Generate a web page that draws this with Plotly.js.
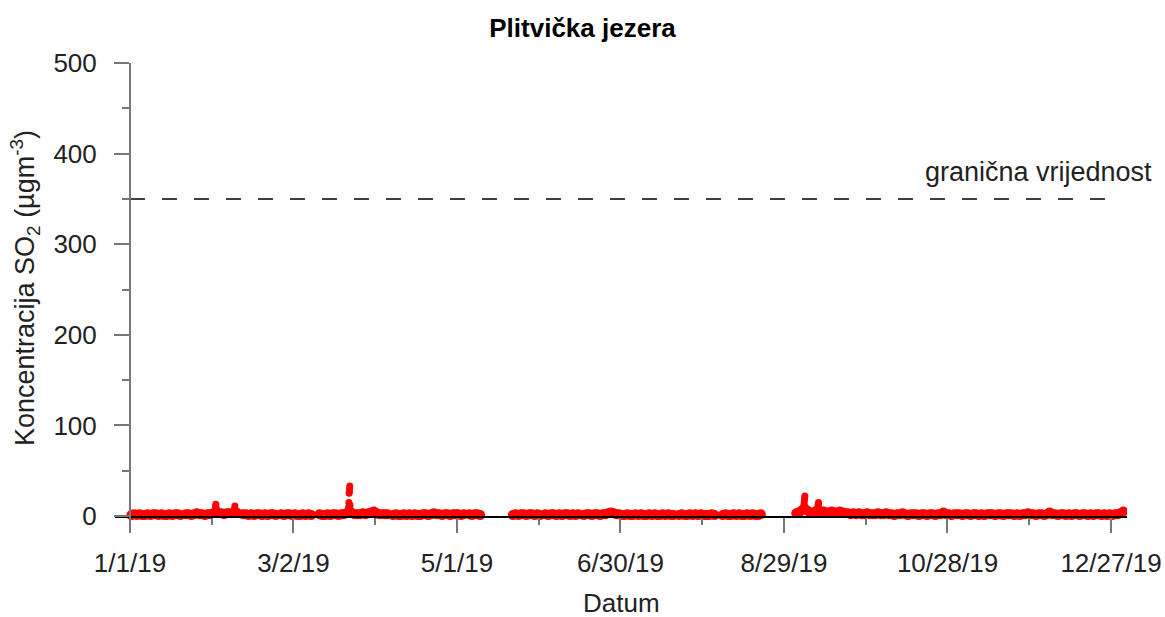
<!DOCTYPE html>
<html>
<head>
<meta charset="utf-8">
<script src="https://cdn.plot.ly/plotly-3.0.1.min.js"></script>
<style>html,body{margin:0;padding:0;background:#fff;}</style>
</head>
<body>
<div id="chart" style="width:1165px;height:617px;"></div>
<script>
// Daily SO2 concentrations (µg/m3), 2019, one value per day (null = no data)
const jan = [1,2,1,2,1,1,2,1,2,2,1,2,1,1,2,1,2,2,1,null,2,2,1,2,3,2,2,1,2,2,3];
const feb = [4,3,3,2,3,3,3,4,3,null,2,2,1,2,1,2,2,1,2,1,2,2,1,null,2,1,2,2];
const mar = [1,2,1,1,2,1,2,1,null,null,2,1,1,2,1,2,2,1,2,2,3,6,3,2,2,2,3,2,3,4,5];
const apr = [3,2,2,2,2,null,1,2,1,1,2,1,2,1,2,1,1,2,2,1,2,3,2,2,1,2,2,1,2,2];
const may = [2,1,2,null,2,1,2,2,1,null,null,null,null,null,null,null,null,null,null,null,1,2,1,2,2,1,2,2,1,2,1];
const jun = [null,2,1,2,2,1,2,1,2,2,1,2,1,2,null,1,2,2,1,2,2,1,2,2,3,4,3,2,2,1];
const jul = [1,2,1,1,2,1,2,1,1,2,1,2,1,1,2,1,2,1,1,null,1,2,1,1,2,1,2,1,2,1,1];
const aug = [1,2,1,null,null,1,2,1,1,2,1,2,1,1,2,1,2,1,1,2,null,null,null,null,null,null,null,null,null,null,null];
const sep = [null,3,4,6,8,6,4,4,5,6,5,5,4,4,5,4,4,5,4,3,3,2,3,2,3,2,2,3,2,2];
const oct = [2,3,2,2,3,2,2,1,2,2,3,2,1,2,2,2,1,2,2,1,2,2,1,2,2,4,2,2,1,2,2];
const nov = [2,1,2,2,1,2,2,1,2,1,2,2,2,1,2,2,1,2,2,2,1,2,1,2,2,3,2,2,1,2];
const dec = [2,1,2,4,2,2,1,2,2,1,2,1,2,2,1,2,2,1,2,1,2,2,1,2,1,2,1,2,2,3,5];
const months = [jan,feb,mar,apr,may,jun,jul,aug,sep,oct,nov,dec];

// Short episodes with elevated hourly values
const spikeTimes = [
  '2019-02-01 06:00','2019-02-01 09:00','2019-02-01 12:00','2019-02-01 15:00',
  '2019-02-08 09:00','2019-02-08 12:00','2019-02-08 15:00',
  '2019-03-22 06:00','2019-03-22 08:00','2019-03-22 10:00','2019-03-22 12:00','2019-03-22 14:00','2019-03-22 16:00','2019-03-22 18:00',
  '2019-09-05 04:00','2019-09-05 06:00','2019-09-05 08:00','2019-09-05 10:00','2019-09-05 12:00','2019-09-05 14:00','2019-09-05 16:00','2019-09-05 18:00',
  '2019-09-10 08:00','2019-09-10 10:00','2019-09-10 12:00','2019-09-10 14:00','2019-09-10 16:00'
];
const spikeValues = [
  7,10,13,9,
  8,11,7,
  10,15,25,27,30,33,12,
  8,10,12,15,18,20,22,10,
  7,9,11,13,15
];

const limitValue = 350;
const limitDates = ['2019-01-01','2019-12-30'];
const limitLabel = 'granična vrijednost';

const xTick0 = '2019-01-01';
const yTickVals = [0,100,200,300,400,500];
const yMinorVals = [50,150,250,350,450];

// build daily series
const dailyX = [], dailyY = [];
months.forEach((arr, mi) => {
  arr.forEach((v, di) => {
    const mm = String(mi + 1).padStart(2, '0');
    const dd = String(di + 1).padStart(2, '0');
    dailyX.push(`2019-${mm}-${dd} 12:00`);
    dailyY.push(v);
  });
});

const red = 'rgb(255,0,0)';
const traces = [
  {x: dailyX, y: dailyY, type: 'scatter', mode: 'markers',
   marker: {color: red, size: 10, line: {width: 0}}, hoverinfo: 'skip'},
  {x: spikeTimes, y: spikeValues, type: 'scatter', mode: 'markers',
   marker: {color: red, size: 7, line: {width: 0}}, hoverinfo: 'skip'},
  {x: limitDates, y: [limitValue, limitValue], type: 'scatter', mode: 'lines',
   line: {color: 'black', width: 1.5, dash: '15px,17px'}, hoverinfo: 'skip'}
];

const FONT = '"Liberation Sans", Arial, sans-serif';
const TXT = '#222';
const DAY = 86400000;
const plotH = 617 - 63 - 85; // 469
const plotW = 1165 - 115 - 38; // 1012

const layout = {
  width: 1165, height: 617,
  margin: {l: 115, r: 38, t: 63, b: 85},
  paper_bgcolor: 'white', plot_bgcolor: 'white',
  showlegend: false,
  font: {family: FONT, size: 26, color: TXT},
  title: {text: '<b>Plitvička jezera</b>', x: 0.5, xref: 'container', xanchor: 'center',
          y: 1 - 28/617, yref: 'container', yanchor: 'middle',
          font: {family: FONT, size: 26, color: '#000'}},
  xaxis: {
    type: 'date', range: ['2018-12-26 12:00', '2020-01-01 21:00'],
    anchor: 'free', position: 16/plotH,
    showline: true, linecolor: 'black', linewidth: 1.5,
    showgrid: false, zeroline: false,
    ticks: 'outside', ticklen: 15, tickwidth: 2, tickcolor: '#777',
    tick0: xTick0, dtick: 60*DAY, tickformat: '%-m/%-d/%y',
    ticklabelstandoff: 8,
    tickfont: {family: FONT, size: 26, color: TXT},
    minor: {ticks: 'outside', ticklen: 7, tickwidth: 2, tickcolor: '#777',
            tick0: xTick0, dtick: 30*DAY, showgrid: false}
  },
  yaxis: {
    range: [-17.66, 500],
    anchor: 'free', position: 15/plotW,
    showline: true, linecolor: '#777', linewidth: 2,
    showgrid: false, zeroline: false,
    ticks: 'outside', ticklen: 15, tickwidth: 2, tickcolor: '#777',
    tickmode: 'array', tickvals: yTickVals, ticktext: yTickVals.map(String),
    ticklabelstandoff: 12,
    tickfont: {family: FONT, size: 26, color: TXT},
    minor: {ticks: 'outside', ticklen: 7, tickwidth: 2, tickcolor: '#777',
            tickmode: 'array', tickvals: yMinorVals, showgrid: false}
  },
  annotations: [
    {text: limitLabel, xref: 'paper', yref: 'paper', x: (1154-115)/plotW, y: (532-172)/plotH,
     xanchor: 'right', yanchor: 'middle', showarrow: false,
     font: {family: FONT, size: 27, color: TXT}},
    {text: 'Datum', xref: 'paper', yref: 'paper', x: 0.5, y: (532-603)/plotH,
     xanchor: 'center', yanchor: 'middle', showarrow: false,
     font: {family: FONT, size: 26, color: TXT}},
    {text: 'Koncentracija SO<sub>2</sub> (µgm<sup>-3</sup>)', xref: 'paper', yref: 'paper',
     x: (25-115)/plotW, y: (532-288)/plotH, textangle: -90,
     xanchor: 'center', yanchor: 'middle', showarrow: false,
     font: {family: FONT, size: 27, color: TXT}}
  ]
};

Plotly.newPlot('chart', traces, layout, {displayModeBar: false, staticPlot: true});
</script>
</body>
</html>
